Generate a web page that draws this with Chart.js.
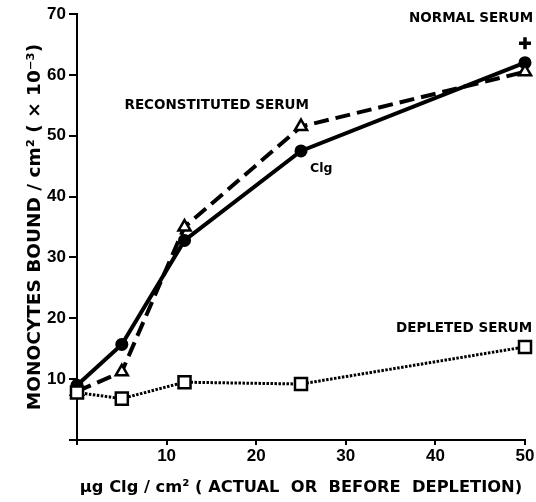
<!DOCTYPE html>
<html lang="en">
<head>
    <meta charset="UTF-8">
    <title>Monocytes bound vs Clg</title>
    <style>
        body {
            margin: 0;
            padding: 0;
            background-color: #fff;
        }
        .wrap {
            width: 536px;
            height: 502px;
        }
    </style>
    <script src="https://cdn.jsdelivr.net/npm/chart.js"></script>
</head>
<body>
    <div class="wrap">
        <canvas id="bindingChart" width="536" height="502"></canvas>
    </div>

    <script>
        // ug Clg / cm2 (actual or before depletion)
        const doseClg = [0, 5, 12, 25, 50];
        // monocytes bound / cm2 (x 10^-3)
        const clgBound = [9, 15.7, 32.8, 47.5, 62];
        const reconstitutedBound = [8, 11.2, 35, 51.5, 60.5];
        const depletedBound = [7.8, 6.8, 9.5, 9.2, 15.3];
        const normalDose = [50];
        const normalBound = [65.2];

        const yTicks = [10, 20, 30, 40, 50, 60, 70];
        const xTicks = [10, 20, 30, 40, 50];

        const toPoints = (xs, ys) => xs.map((x, i) => ({ x: x, y: ys[i] }));

        const FONT = '"DejaVu Sans", "Liberation Sans", Arial, sans-serif';
        const NUM_FONT = '"Liberation Sans", Arial, sans-serif';

        // text labels placed in data units
        const notes = [
            { text: 'NORMAL SERUM', x: 50.9, y: 69.3, align: 'right', size: 13.5 },
            { text: 'RECONSTITUTED SERUM', x: 5.3, y: 54.9, align: 'left', size: 13.5 },
            { text: 'Clg', x: 26, y: 44.6, align: 'left', size: 12.5 },
            { text: 'DEPLETED SERUM', x: 50.8, y: 18.3, align: 'right', size: 13.5 }
        ];

        const notesPlugin = {
            id: 'notes',
            afterDatasetsDraw(chart) {
                const ctx = chart.ctx;
                const xs = chart.scales.x;
                const ys = chart.scales.y;
                ctx.save();
                ctx.fillStyle = '#000';
                ctx.textBaseline = 'middle';
                notes.forEach(n => {
                    ctx.font = `bold ${n.size}px ${FONT}`;
                    ctx.textAlign = n.align;
                    ctx.fillText(n.text, xs.getPixelForValue(n.x), ys.getPixelForValue(n.y));
                });
                ctx.restore();
            }
        };

        const tickFont = { family: NUM_FONT, size: 17, weight: 'bold' };

        new Chart(document.getElementById('bindingChart'), {
            type: 'scatter',
            data: {
                datasets: [
                    {
                        label: 'Depleted serum',
                        data: toPoints(doseClg, depletedBound),
                        showLine: true,
                        borderColor: '#000',
                        borderWidth: 3,
                        borderDash: [2.5, 1.5],
                        pointStyle: 'rect',
                        pointRadius: 8.5,
                        pointBorderWidth: 2.5,
                        pointBackgroundColor: '#fff',
                        pointBorderColor: '#000',
                        clip: false
                    },
                    {
                        label: 'Reconstituted serum',
                        data: toPoints(doseClg, reconstitutedBound),
                        showLine: true,
                        borderColor: '#000',
                        borderWidth: 4,
                        borderDash: [15, 7],
                        pointStyle: 'triangle',
                        pointRadius: 7,
                        pointBorderWidth: 2.5,
                        pointBackgroundColor: '#fff',
                        pointBorderColor: '#000',
                        clip: false
                    },
                    {
                        label: 'Clg',
                        data: toPoints(doseClg, clgBound),
                        showLine: true,
                        borderColor: '#000',
                        borderWidth: 4,
                        pointStyle: 'circle',
                        pointRadius: 6.5,
                        pointBorderWidth: 0,
                        pointBackgroundColor: '#000',
                        clip: false
                    },
                    {
                        label: 'Normal serum',
                        data: toPoints(normalDose, normalBound),
                        showLine: false,
                        pointStyle: 'cross',
                        pointRadius: 6,
                        pointBorderWidth: 3.5,
                        pointBorderColor: '#000',
                        clip: false
                    }
                ]
            },
            options: {
                responsive: false,
                animation: false,
                layout: {
                    padding: { top: 14, right: 10, left: 0, bottom: 0 }
                },
                plugins: {
                    legend: { display: false },
                    tooltip: { enabled: false }
                },
                scales: {
                    x: {
                        type: 'linear',
                        min: 0,
                        max: 50,
                        afterBuildTicks: scale => {
                            scale.ticks = [0].concat(xTicks).map(v => ({ value: v }));
                        },
                        afterFit: scale => { scale.height = 62; },
                        border: { display: true, color: '#000', width: 2 },
                        grid: { drawOnChartArea: false, color: '#000', lineWidth: 2, tickLength: 5 },
                        ticks: {
                            color: '#000',
                            font: tickFont,
                            padding: 1,
                            maxRotation: 0,
                            callback: v => (v === 0 ? '' : v)
                        },
                        title: {
                            display: true,
                            text: 'μg Clg / cm² ( ACTUAL  OR  BEFORE  DEPLETION)',
                            color: '#000',
                            font: { family: FONT, size: 16.3, weight: 'bold' },
                            padding: { top: 0, bottom: 4 }
                        }
                    },
                    y: {
                        type: 'linear',
                        min: 0,
                        max: 70,
                        afterBuildTicks: scale => {
                            scale.ticks = [0].concat(yTicks).map(v => ({ value: v }));
                        },
                        afterFit: scale => { scale.width = 77; },
                        border: { display: true, color: '#000', width: 2 },
                        grid: { drawOnChartArea: false, color: '#000', lineWidth: 2, tickLength: 8 },
                        ticks: {
                            color: '#000',
                            font: tickFont,
                            padding: 3,
                            callback: v => (v === 0 ? '' : v)
                        },
                        title: {
                            display: true,
                            text: 'MONOCYTES BOUND / cm² ( × 10⁻³)',
                            color: '#000',
                            font: { family: FONT, size: 18.5, weight: 'bold' },
                            padding: { top: 24, bottom: 0 }
                        }
                    }
                }
            },
            plugins: [notesPlugin]
        });
    </script>
</body>
</html>
